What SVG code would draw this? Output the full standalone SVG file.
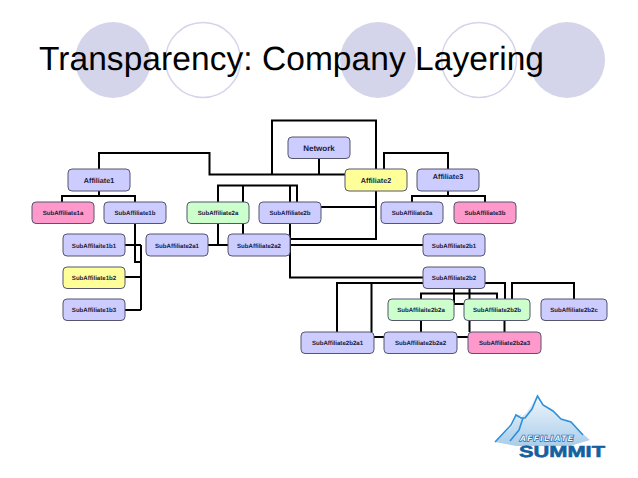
<svg xmlns="http://www.w3.org/2000/svg" width="638" height="478" viewBox="0 0 638 478">
<style>
text{text-rendering:geometricPrecision}
.bg{fill:#d4d4ea}
.ring{fill:#fff;stroke:#d4d4ea;stroke-width:1.5}
.n rect{stroke:#55556e;stroke-width:1;fill:#ccccff}
.n text{font:bold 6.1px "Liberation Sans",Arial,sans-serif;fill:#1a1a3a;text-anchor:middle}
.n.big text{font-size:7.2px}
.n.p rect{fill:#ff99cc}
.n.y rect{fill:#ffff99}
.n.g rect{fill:#ccffcc}
#connectors path{fill:none;stroke:#000;stroke-width:2}
</style>
<defs>
<linearGradient id="mtn" x1="0" y1="0" x2="0" y2="1"><stop offset="0" stop-color="#f2f7fc"/><stop offset="1" stop-color="#a9cdea"/></linearGradient>
</defs>
<rect width="638" height="478" fill="#fff"/>
<g id="decor">
<circle class="bg" cx="113" cy="60" r="38"/>
<circle class="ring" cx="203" cy="60" r="37.5"/>
<circle class="bg" cx="378" cy="60" r="38"/>
<circle class="ring" cx="479" cy="60" r="37.5"/>
<circle class="bg" cx="567" cy="60" r="38"/>
</g>
<text id="title" x="39" y="70" font-family="'Liberation Sans',Arial,sans-serif" font-size="33.500" fill="#000" textLength="505">Transparency: Company Layering</text>
<g id="connectors">
<path d="M99 169V153H209.500V174.500H345M319 158V174.500M272 174.500V120.500H376V169"/>
<path d="M376 191V239H290M376 207H321"/>
<path d="M384 169V153H448V169M448 191V196M412 202V196H485V202"/>
<path d="M99 191V196M62 202V196H135V202"/>
<path d="M135 223V262H141M125 245H141M125 277H141M125 310H141M141 245V310"/>
<path d="M218 202V185.500H297V202M243 185.500V202M290 185.500V202"/>
<path d="M218 223V245M243 223V234M208 245H228M290 223V277.500H423M290 245H423"/>
<path d="M423 283H337V332M371.500 283V332"/>
<path d="M454 288V304H464M469.500 288V299M421 299V293.500H497V299"/>
<path d="M485 283H505V299M512 299V283H574V299"/>
<path d="M421 321V332M469.500 321V332M504.500 321V332M374 337H384M457 337H468"/>
</g>
<g id="network" class="n big"><rect x="288" y="137" width="62" height="21.500" rx="4"/><text x="319" y="151" style="font-size:8px">Network</text></g>
<g id="affiliate1" class="n big"><rect x="68" y="169" width="62" height="22" rx="4"/><text x="99" y="183">Affiliate1</text></g>
<g id="affiliate2" class="n big y"><rect x="345" y="169" width="62" height="22" rx="4"/><text x="376" y="183">Affiliate2</text></g>
<g id="affiliate3" class="n big"><rect x="417" y="169" width="62" height="22" rx="4"/><text x="448" y="179">Affiliate3</text></g>
<g id="sub1a" class="n p"><rect x="32" y="202" width="62" height="21.500" rx="4"/><text x="63" y="215">SubAffiliate1a</text></g>
<g id="sub1b" class="n"><rect x="104" y="202" width="62" height="21.500" rx="4"/><text x="135" y="215">SubAffiliate1b</text></g>
<g id="sub2a" class="n g"><rect x="187" y="202" width="62" height="21.500" rx="4"/><text x="218" y="215">SubAffiliate2a</text></g>
<g id="sub2b" class="n"><rect x="259" y="202" width="62" height="21.500" rx="4"/><text x="290" y="215">SubAffiliate2b</text></g>
<g id="sub3a" class="n"><rect x="381" y="202" width="62" height="21.500" rx="4"/><text x="412" y="215">SubAffiliate3a</text></g>
<g id="sub3b" class="n p"><rect x="454" y="202" width="62" height="21.500" rx="4"/><text x="485" y="215">SubAffiliate3b</text></g>
<g id="sub1b1" class="n"><rect x="63" y="234" width="62" height="22" rx="4"/><text x="94" y="247.500">SubAffilaite1b1</text></g>
<g id="sub1b2" class="n y"><rect x="63" y="267" width="62" height="21.500" rx="4"/><text x="94" y="280">SubAffiliate1b2</text></g>
<g id="sub1b3" class="n"><rect x="63" y="299" width="62" height="21.500" rx="4"/><text x="94" y="312">SubAffiliate1b3</text></g>
<g id="sub2a1" class="n"><rect x="146" y="234" width="62" height="22" rx="4"/><text x="177" y="247.500">SubAffiliate2a1</text></g>
<g id="sub2a2" class="n"><rect x="228" y="234" width="62" height="22" rx="4"/><text x="259" y="247.500">SubAffiliate2a2</text></g>
<g id="sub2b1" class="n"><rect x="423" y="234" width="62" height="22" rx="4"/><text x="454" y="247.500">SubAffiliate2b1</text></g>
<g id="sub2b2" class="n"><rect x="423" y="267" width="62" height="21.500" rx="4"/><text x="454" y="280">SubAffiliate2b2</text></g>
<g id="sub2b2a" class="n g"><rect x="388" y="299" width="66" height="21.500" rx="4"/><text x="421" y="312">SubAffilaite2b2a</text></g>
<g id="sub2b2b" class="n g"><rect x="464" y="299" width="66" height="21.500" rx="4"/><text x="497" y="312">SubAffiliate2b2b</text></g>
<g id="sub2b2c" class="n"><rect x="541" y="299" width="66" height="21.500" rx="4"/><text x="574" y="312">SubAffiliate2b2c</text></g>
<g id="sub2b2a1" class="n"><rect x="301" y="332" width="73" height="21.500" rx="4"/><text x="337.500" y="345">SubAffiliate2b2a1</text></g>
<g id="sub2b2a2" class="n"><rect x="384" y="332" width="73" height="21.500" rx="4"/><text x="420.500" y="345">SubAffiliate2b2a2</text></g>
<g id="sub2b2a3" class="n p"><rect x="468" y="332" width="73" height="21.500" rx="4"/><text x="504.500" y="345">SubAffiliate2b2a3</text></g>
<g id="logo">
<path d="M495 442L512 426 516 416 522 414 518 420 527 412 537 395 541 404 552 411 560 419 570 421 582 433 590 440 570 446H516Z" fill="url(#mtn)"/>
<path d="M495 442L511 425 516 415 521 418 525 418 532 409 537.500 396 543 405 553 411 561 419 571 422 583 435M510 441L519 430 523 418" fill="none" stroke="#2f8fd8" stroke-width="1.600"/>
<text x="520" y="440.500" font-family="'Liberation Sans',Arial,sans-serif" font-weight="bold" font-style="italic" font-size="8" fill="#fff" stroke="#1f6fb8" stroke-width="1.500" paint-order="stroke" textLength="53">AFFILIATE</text>
<text x="519" y="457" font-family="'Liberation Sans',Arial,sans-serif" font-weight="bold" font-size="16" fill="#14609f" stroke="#14609f" stroke-width=".6" textLength="86" lengthAdjust="spacingAndGlyphs">SUMMIT</text>
</g>
</svg>
